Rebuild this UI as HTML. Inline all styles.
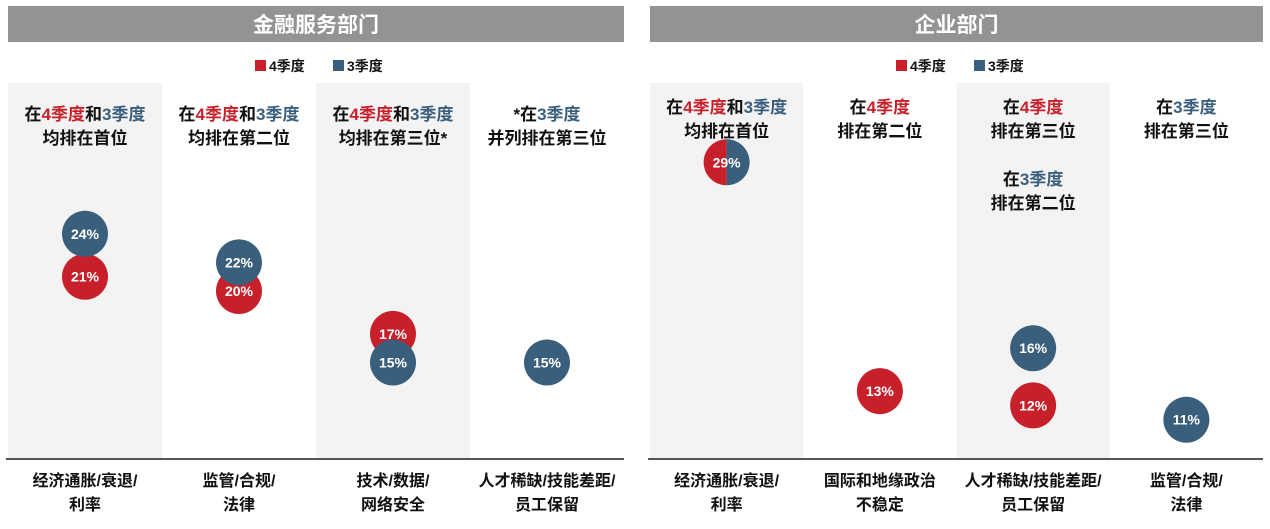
<!DOCTYPE html>
<html><head><meta charset="utf-8"><style>
body{margin:0;background:#fff;width:1270px;height:529px;overflow:hidden}
svg{display:block}
text{font-family:"Liberation Sans","Noto Sans CJK SC",sans-serif;font-weight:bold}
</style></head><body>
<svg id="c" width="1270" height="529" xmlns="http://www.w3.org/2000/svg"></svg>
<script>
const leftCats=[["经济通胀/衰退/","利率"],["监管/合规/","法律"],["技术/数据/","网络安全"],["人才稀缺/技能差距/","员工保留"]];
const leftQ4=[21,20,17,null];
const leftQ3=[24,22,15,15];
const rightCats=[["经济通胀/衰退/","利率"],["国际和地缘政治","不稳定"],["人才稀缺/技能差距/","员工保留"],["监管/合规/","法律"]];
const rightQ4=[29,13,12,null];
const rightQ3=[29,null,16,11];
const RED="#c8202a",BLUE="#3a5f7d";
const svg=document.getElementById('c');
const NS="http://www.w3.org/2000/svg";
function el(t,a,p){const e=document.createElementNS(NS,t);for(const k in a)e.setAttribute(k,a[k]);(p||svg).appendChild(e);return e;}
function y(v){return 577-14.3*v;}
const notesL=[[[["在","#111"],["4季度",RED],["和","#111"],["3季度",BLUE]],[["均排在首位","#111"]]],
[[["在","#111"],["4季度",RED],["和","#111"],["3季度",BLUE]],[["均排在第二位","#111"]]],
[[["在","#111"],["4季度",RED],["和","#111"],["3季度",BLUE]],[["均排在第三位*","#111"]]],
[[["*在","#111"],["3季度",BLUE]],[["并列排在第三位","#111"]]]];
const notesR=[[[["在","#111"],["4季度",RED],["和","#111"],["3季度",BLUE]],[["均排在首位","#111"]]],
[[["在","#111"],["4季度",RED]],[["排在第二位","#111"]]],
[[["在","#111"],["4季度",RED]],[["排在第三位","#111"]],[],[["在","#111"],["3季度",BLUE]],[["排在第二位","#111"]]],
[[["在","#111"],["3季度",BLUE]],[["排在第三位","#111"]]]];
function panel(x0,x1,title,cats,q4,q3,notes,name,legX,topY){
  const g=el('g',{});
  const h=el('rect',{x:x0,y:6,width:x1-x0,height:36,fill:'#939393'},g);
  
  
  const ht=el('text',{x:(x0+x1)/2,y:32,'text-anchor':'middle',fill:'#fff','font-size':21},g);ht.textContent=title;
  
  
  // legend
  const lg=el('g',{},g);
  
  
  el('rect',{x:legX,y:60,width:11,height:11,fill:RED},lg);
  let t=el('text',{x:legX+14,y:71,'font-size':14,fill:'#111'},lg);t.textContent='4季度';
  el('rect',{x:legX+78,y:60,width:11,height:11,fill:BLUE},lg);
  t=el('text',{x:legX+92,y:71,'font-size':14,fill:'#111'},lg);t.textContent='3季度';
  const w=(x1-x0)/4;
  for(let i=0;i<4;i++){
    const cx=x0+w*i+w/2;
    if(i%2==0){const r=el('rect',{x:x0+w*i,y:83,width:w,height:376,fill:'#f3f3f3'},g);
      
      }
    notes[i].forEach((line,li)=>{
      if(!line.length)return;
      const tx=el('text',{x:cx,y:topY+24*li,'text-anchor':'middle','font-size':17},g);
      
      
      line.forEach(s=>{const sp=el('tspan',{fill:s[1]},tx);sp.textContent=s[0];});
    });
    cats[i].forEach((l,li)=>{
      const tx=el('text',{x:cx,y:486+24*li,'text-anchor':'middle','font-size':16,fill:'#111'},g);tx.textContent=l;
      
      
    });
    const R=23;
    if(q4[i]!=null&&q3[i]!=null&&q4[i]==q3[i]){
      const cy=y(q4[i]);
      const a=el('path',{d:`M${cx},${cy-R} A${R},${R} 0 0 0 ${cx},${cy+R} Z`,fill:RED},g);
      
      
      const b=el('path',{d:`M${cx},${cy-R} A${R},${R} 0 0 1 ${cx},${cy+R} Z`,fill:BLUE},g);
      
      
      const lt=el('text',{x:cx,y:cy+5,'text-anchor':'middle','font-size':14,fill:'#fff'},g);lt.textContent=q4[i]+'%';
      
      
      continue;
    }
    [[q4[i],RED,'point-q4'],[q3[i],BLUE,'point-q3']].forEach(p=>{
      if(p[0]==null)return;
      const c=el('circle',{cx:cx,cy:y(p[0]),r:R,fill:p[1]},g);
      
      
      const lt=el('text',{x:cx,y:y(p[0])+5,'text-anchor':'middle','font-size':14,fill:'#fff'},g);lt.textContent=p[0]+'%';
      
      
    });
  }
  const ax=el('line',{x1:x0-2,x2:x1,y1:459,y2:459,stroke:'#555','stroke-width':2},g);
  
  
}
panel(8,624,'金融服务部门',leftCats,leftQ4,leftQ3,notesL,'financial-panel',255,120);
panel(650,1263,'企业部门',rightCats,rightQ4,rightQ3,notesR,'corporate-panel',896,113);
</script>
</body></html>
